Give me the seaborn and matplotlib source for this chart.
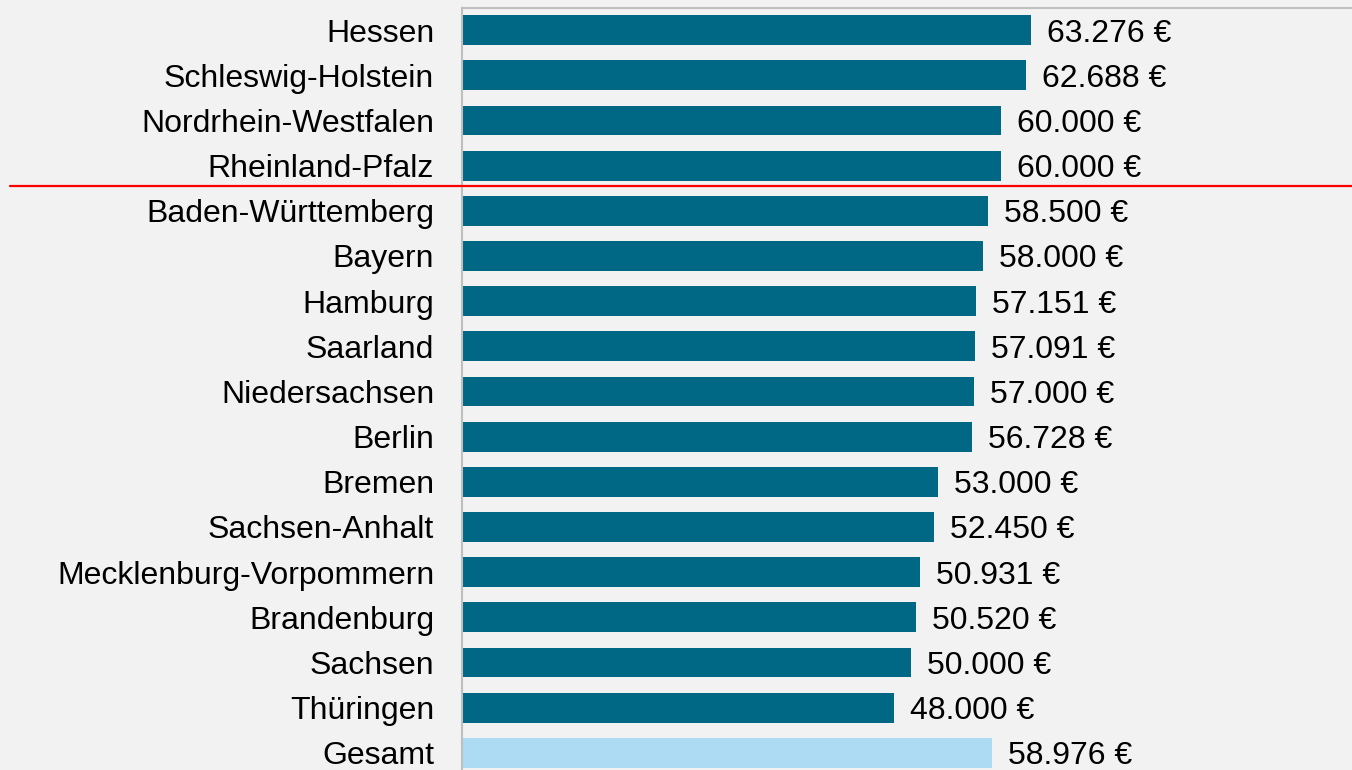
import pandas as pd
import matplotlib
matplotlib.use("Agg")
import matplotlib.pyplot as plt
import matplotlib.transforms as mtransforms
from matplotlib.lines import Line2D
import seaborn as sns

# Data
states = [
    "Hessen", "Schleswig-Holstein", "Nordrhein-Westfalen", "Rheinland-Pfalz",
    "Baden-Württemberg", "Bayern", "Hamburg", "Saarland", "Niedersachsen",
    "Berlin", "Bremen", "Sachsen-Anhalt", "Mecklenburg-Vorpommern",
    "Brandenburg", "Sachsen", "Thüringen", "Gesamt",
]
salaries = [
    63276, 62688, 60000, 60000, 58500, 58000, 57151, 57091, 57000,
    56728, 53000, 52450, 50931, 50520, 50000, 48000, 58976,
]
groups = ["Land"] * 16 + ["Gesamt"]

BG = "#F2F2F2"
palette = {"Land": "#006884", "Gesamt": "#ADDBF3"}

df = pd.DataFrame({"state": states, "salary": salaries, "group": groups})

sns.set_theme(style="white")
plt.rcParams["font.family"] = ["Liberation Sans", "DejaVu Sans"]

fig = plt.figure(figsize=(13.52, 7.70), dpi=100, facecolor=BG)
ax = fig.add_axes([462 / 1352, 0.0, 1 - 462 / 1352, 1 - 8 / 770])
ax.set_facecolor(BG)

sns.barplot(data=df, x="salary", y="state", hue="group", palette=palette,
            dodge=False, width=0.66, legend=False, ax=ax, saturation=1,
            linewidth=0)

ax.set_xlim(0, 99000)
ax.set_ylim(16.38, -0.49)
ax.set_xlabel("")
ax.set_ylabel("")
ax.set_xticks([])
ax.tick_params(axis="y", length=0, pad=20, labelsize=23, labelcolor="black")

for side in ["left", "top"]:
    ax.spines[side].set_color("#BFBFBF")
    ax.spines[side].set_linewidth(1.5)
for side in ["right", "bottom"]:
    ax.spines[side].set_visible(False)

# value labels
for i, val in enumerate(salaries):
    txt = f"{val:,} €".replace(",", ".")
    ax.annotate(txt, (val, i), xytext=(16, 0), textcoords="offset pixels",
                va="center_baseline", ha="left", fontsize=23, color="black")

# red separator between top four and the rest
trans = mtransforms.blended_transform_factory(fig.transFigure, ax.transData)
fig.add_artist(Line2D([10 / 1352, 1.0], [3.45, 3.45], transform=trans,
                      color="#FF0000", linewidth=1.6))

fig.savefig("out.png", dpi=100, facecolor=BG)
